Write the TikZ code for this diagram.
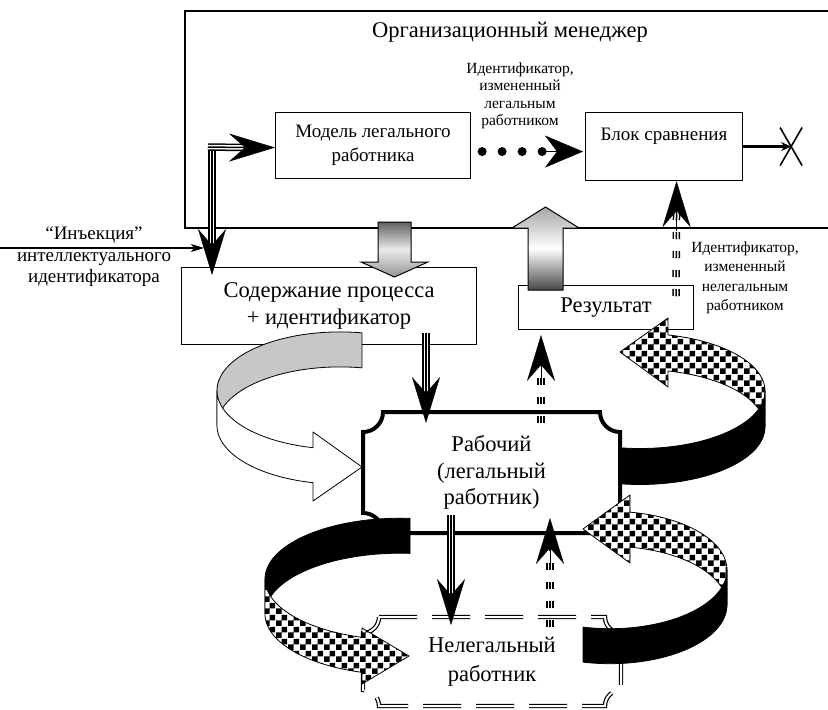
\documentclass[tikz,border=0pt]{standalone}
\usepackage{fontspec}
\setmainfont{Liberation Serif}
\usetikzlibrary{arrows.meta,patterns}
\pgfdeclarepatternformonly{bigchecker}{\pgfpointorigin}{\pgfqpoint{12pt}{12pt}}{\pgfqpoint{12pt}{12pt}}{%
  \pgfpathrectangle{\pgfpointorigin}{\pgfqpoint{6pt}{6pt}}%
  \pgfpathrectangle{\pgfqpoint{6pt}{6pt}}{\pgfqpoint{6pt}{6pt}}%
  \pgfusepath{fill}}
\begin{document}
\begin{tikzpicture}[x=1pt,y=-1pt,
  box/.style={draw, line width=1.1pt, fill=white, inner sep=0pt, anchor=north west, align=center},
  big/.style={font=\fontsize{22.5}{27}\selectfont, align=center},
  mid/.style={font=\fontsize{19}{24}\selectfont, align=center},
  small/.style={font=\fontsize{15.5}{17.5}\selectfont, align=center},
  bighead/.style={-{Stealth[length=46pt,width=28pt,inset=16pt]}, line width=0.4pt},
  triple/.style={draw=black, line width=7.5pt, postaction={draw=white, line width=4.5pt}, postaction={draw=black, line width=1.5pt}},
  tripledash/.style={draw=black, line width=7.5pt, dash pattern=on 7pt off 12pt,
     postaction={draw=white, line width=4.5pt, dash pattern=on 7pt off 12pt},
     postaction={draw=black, line width=1.5pt, dash pattern=on 7pt off 12pt}},
  ribline/.style={draw=black, line width=0.8pt, line join=round},
  checker/.style={ribline, preaction={fill=white}, pattern=bigchecker},
  plaque/.style={line width=4pt},
  nelline/.style={draw, line width=1.2pt, double=white, double distance=2pt, dash pattern=on 38pt off 15pt},
  grad/.style={line width=1pt},
  ]
\useasboundingbox (0,0) rectangle (828,710);

% manager frame
\draw[line width=1.2pt] (831,11) -- (185,11) -- (185,228) -- (831,228);
\node[big] (org) at (510,32) {Организационный менеджер};

% boxes
\node[box, mid, minimum width=195pt, minimum height=66pt] (model) at (275,112) {Модель легального\\работника};
\node[box, mid, minimum width=157pt, minimum height=68pt, text height=14pt, text depth=26pt] (blk) at (585,112) {Блок сравнения};
\node[box, big, minimum width=295pt, minimum height=77pt] (sod) at (181,267) {Содержание процесса\\+ идентификатор};
\node[box, big, minimum width=175pt, minimum height=44pt] (res) at (518,285) {Результат};

% worker (legal)
\node[font=\fontsize{22.5}{26.5}\selectfont, align=center, minimum width=257pt, minimum height=121pt, outer sep=0pt, inner sep=0pt] (rab) at (491.5,472.5) {Рабочий\\(легальный\\работник)};
\draw[plaque] ([xshift=20pt]rab.north west) -- ([xshift=-20pt]rab.north east)
  arc[start angle=180,end angle=270,radius=20pt] -- ([yshift=20pt]rab.south east)
  arc[start angle=90,end angle=180,radius=20pt] -- ([xshift=20pt]rab.south west)
  arc[start angle=0,end angle=90,radius=20pt] -- ([yshift=-20pt]rab.north west)
  arc[start angle=270,end angle=360,radius=20pt] -- cycle;

% illegal worker
\node[font=\fontsize{22.5}{29}\selectfont, align=center, minimum width=258pt, minimum height=89pt, outer sep=0pt, inner sep=0pt] (nel) at (492,661.5) {Нелегальный\\работник};
\draw[nelline] ([xshift=16pt]nel.north west) -- ([xshift=-16pt]nel.north east)
  arc[start angle=180,end angle=270,radius=16pt] -- ([yshift=16pt]nel.south east)
  arc[start angle=90,end angle=180,radius=16pt] -- ([xshift=16pt]nel.south west)
  arc[start angle=0,end angle=90,radius=16pt] -- ([yshift=-16pt]nel.north west)
  arc[start angle=270,end angle=360,radius=16pt] -- cycle;

% gradient block arrows
\shadedraw[grad, top color=black!62, bottom color=black!42, middle color=black!8]
  (378,222) -- (411,222) -- (411,262) -- (428,262) -- (394.5,277) -- (361,262) -- (378,262) -- cycle;
\shadedraw[grad, top color=black!35, bottom color=black!72, middle color=white]
  (528,290) -- (528,228) -- (512,228) -- (545.5,207) -- (579,228) -- (563,228) -- (563,290) -- cycle;

% ribbon A (grey back, white front)
\filldraw[ribline, fill=black!22] plot[domain=79.7:180,samples=40,variable=\t] ({340+123*cos(\t)},{390.5-58.6*sin(\t)})
  -- plot[domain=180:79.7,samples=40,variable=\t] ({340+123*cos(\t)},{425.5-58.6*sin(\t)}) -- cycle;
\filldraw[ribline, fill=white] plot[domain=180:257.3,samples=40,variable=\t] ({340+123*cos(\t)},{390.5-58.6*sin(\t)})
  -- (313,432) -- (362,467) -- (313,501)
  -- plot[domain=257.3:180,samples=40,variable=\t] ({340+123*cos(\t)},{425.5-58.6*sin(\t)}) -- cycle;

% ribbon B (black back, checker front)
\filldraw[ribline, fill=black] plot[domain=85.75:180,samples=40,variable=\t] ({400+135*cos(\t)},{579-60.8*sin(\t)})
  -- plot[domain=180:85.75,samples=40,variable=\t] ({400+135*cos(\t)},{614-60.8*sin(\t)}) -- cycle;
\path[checker] plot[domain=180:253.7,samples=40,variable=\t] ({400+135*cos(\t)},{579-60.8*sin(\t)})
  -- (362,628) -- (409,656) -- (362,684)
  -- plot[domain=253.7:180,samples=40,variable=\t] ({400+135*cos(\t)},{614-60.8*sin(\t)}) -- cycle;

% ribbon C (checker back, black front)
\path[checker] plot[domain=77.06:0,samples=40,variable=\t] ({640+125*cos(\t)},{391-57.5*sin(\t)})
  -- plot[domain=0:77.06,samples=40,variable=\t] ({640+125*cos(\t)},{427-57.5*sin(\t)})
  -- (668,387) -- (620,352) -- (668,318) -- cycle;
\filldraw[ribline, fill=black] plot[domain=0:-98.3,samples=40,variable=\t] ({640+125*cos(\t)},{391-57.5*sin(\t)})
  -- plot[domain=-98.3:0,samples=40,variable=\t] ({640+125*cos(\t)},{427-57.5*sin(\t)}) -- cycle;

% ribbon D (checker back, black front)
\path[checker] plot[domain=80.15:0,samples=40,variable=\t] ({610+117*cos(\t)},{570-58.7*sin(\t)})
  -- plot[domain=0:80.15,samples=40,variable=\t] ({610+117*cos(\t)},{605-58.7*sin(\t)})
  -- (630,563) -- (583,529) -- (630,495) -- cycle;
\filldraw[ribline, fill=black] plot[domain=0:-103.3,samples=40,variable=\t] ({610+117*cos(\t)},{570-58.7*sin(\t)})
  -- plot[domain=-103.3:0,samples=40,variable=\t] ({610+117*cos(\t)},{605-58.7*sin(\t)}) -- cycle;

% named arrow ends
\coordinate (tipS) at ([xshift=31pt,yshift=-8pt]sod.north west);
\coordinate (tipM) at ([yshift=-2pt]model.west);
\coordinate (sodOut) at (426,333);
\coordinate (tipR1) at (426,423);
\coordinate (rabOut) at (451,515);
\coordinate (tipN) at (451,625);
\coordinate (nelOut) at (550,627);
\coordinate (tipR2) at (550,518);
\coordinate (rabUp) at (541,423);
\coordinate (tipRes) at (541,335);
\coordinate (resUp) at (676,296);
\coordinate (tipB) at ([xshift=12.5pt]blk.south);

% triple line into model and content
\draw[triple] (212,150) -- ([yshift=28pt]tipS);
\draw[bighead] ([yshift=50pt]tipS) -- (tipS);
\draw[triple] (208,147) -- ([xshift=-28pt]tipM);
\draw[bighead] ([xshift=-50pt]tipM) -- (tipM);

% content -> worker
\draw[triple] (sodOut) -- ([yshift=28pt]tipR1);
\draw[bighead] ([yshift=50pt]tipR1) -- (tipR1);
% worker -> illegal
\draw[triple] (rabOut) -- ([yshift=28pt]tipN);
\draw[bighead] ([yshift=50pt]tipN) -- (tipN);
% illegal -> worker
\draw[tripledash] (nelOut) -- ([yshift=-28pt]tipR2);
\draw[bighead] ([yshift=-50pt]tipR2) -- (tipR2);
% worker -> result
\draw[tripledash] (rabUp) -- ([yshift=-28pt]tipRes);
\draw[bighead] ([yshift=-50pt]tipRes) -- (tipRes);
% result -> comparison
\draw[tripledash] (resUp) -- ([yshift=-28pt]tipB);
\draw[bighead] ([yshift=-50pt]tipB) -- (tipB);

% dotted arrow model -> comparison
\coordinate (dotend) at ([xshift=-2pt,yshift=-5pt]blk.west);
\draw[line width=9pt, line cap=round, dash pattern=on 0pt off 20pt] ([xshift=11pt,yshift=-6pt]model.east) -- ([xshift=-38pt]dotend);
\draw[-{Stealth[length=38pt,width=32pt,inset=12pt]}, line width=0.4pt] ([xshift=-38.5pt]dotend) -- (dotend);

% comparison output, crossed
\coordinate (xend) at ([xshift=48pt]blk.east);
\draw[line width=3pt, -{Stealth[length=10pt,width=9pt]}] (blk.east) -- (xend);
\draw[line width=1.6pt] ([xshift=-11pt,yshift=19pt]xend) -- ([xshift=11pt,yshift=-19pt]xend)
  ([xshift=11pt,yshift=19pt]xend) -- ([xshift=-11pt,yshift=-19pt]xend);

% injection
\coordinate (injstart) at (0,248);
\coordinate (injtip) at (204,248);
\draw[line width=1.2pt, -{Stealth[length=13pt,width=8pt,inset=3pt]}] (injstart) -- (injtip);
\node[font=\fontsize{19}{21.5}\selectfont, align=center] (inj) at (94,257) {“Инъекция”\\интеллектуального\\идентификатора};

% labels
\node[small] (lab1) at (520,96) {Идентификатор,\\измененный\\легальным\\работником};
\node[font=\fontsize{15.5}{19.5}\selectfont, align=center] (lab2) at (745,278) {Идентификатор,\\измененный\\нелегальным\\работником};
\end{tikzpicture}
\end{document}
